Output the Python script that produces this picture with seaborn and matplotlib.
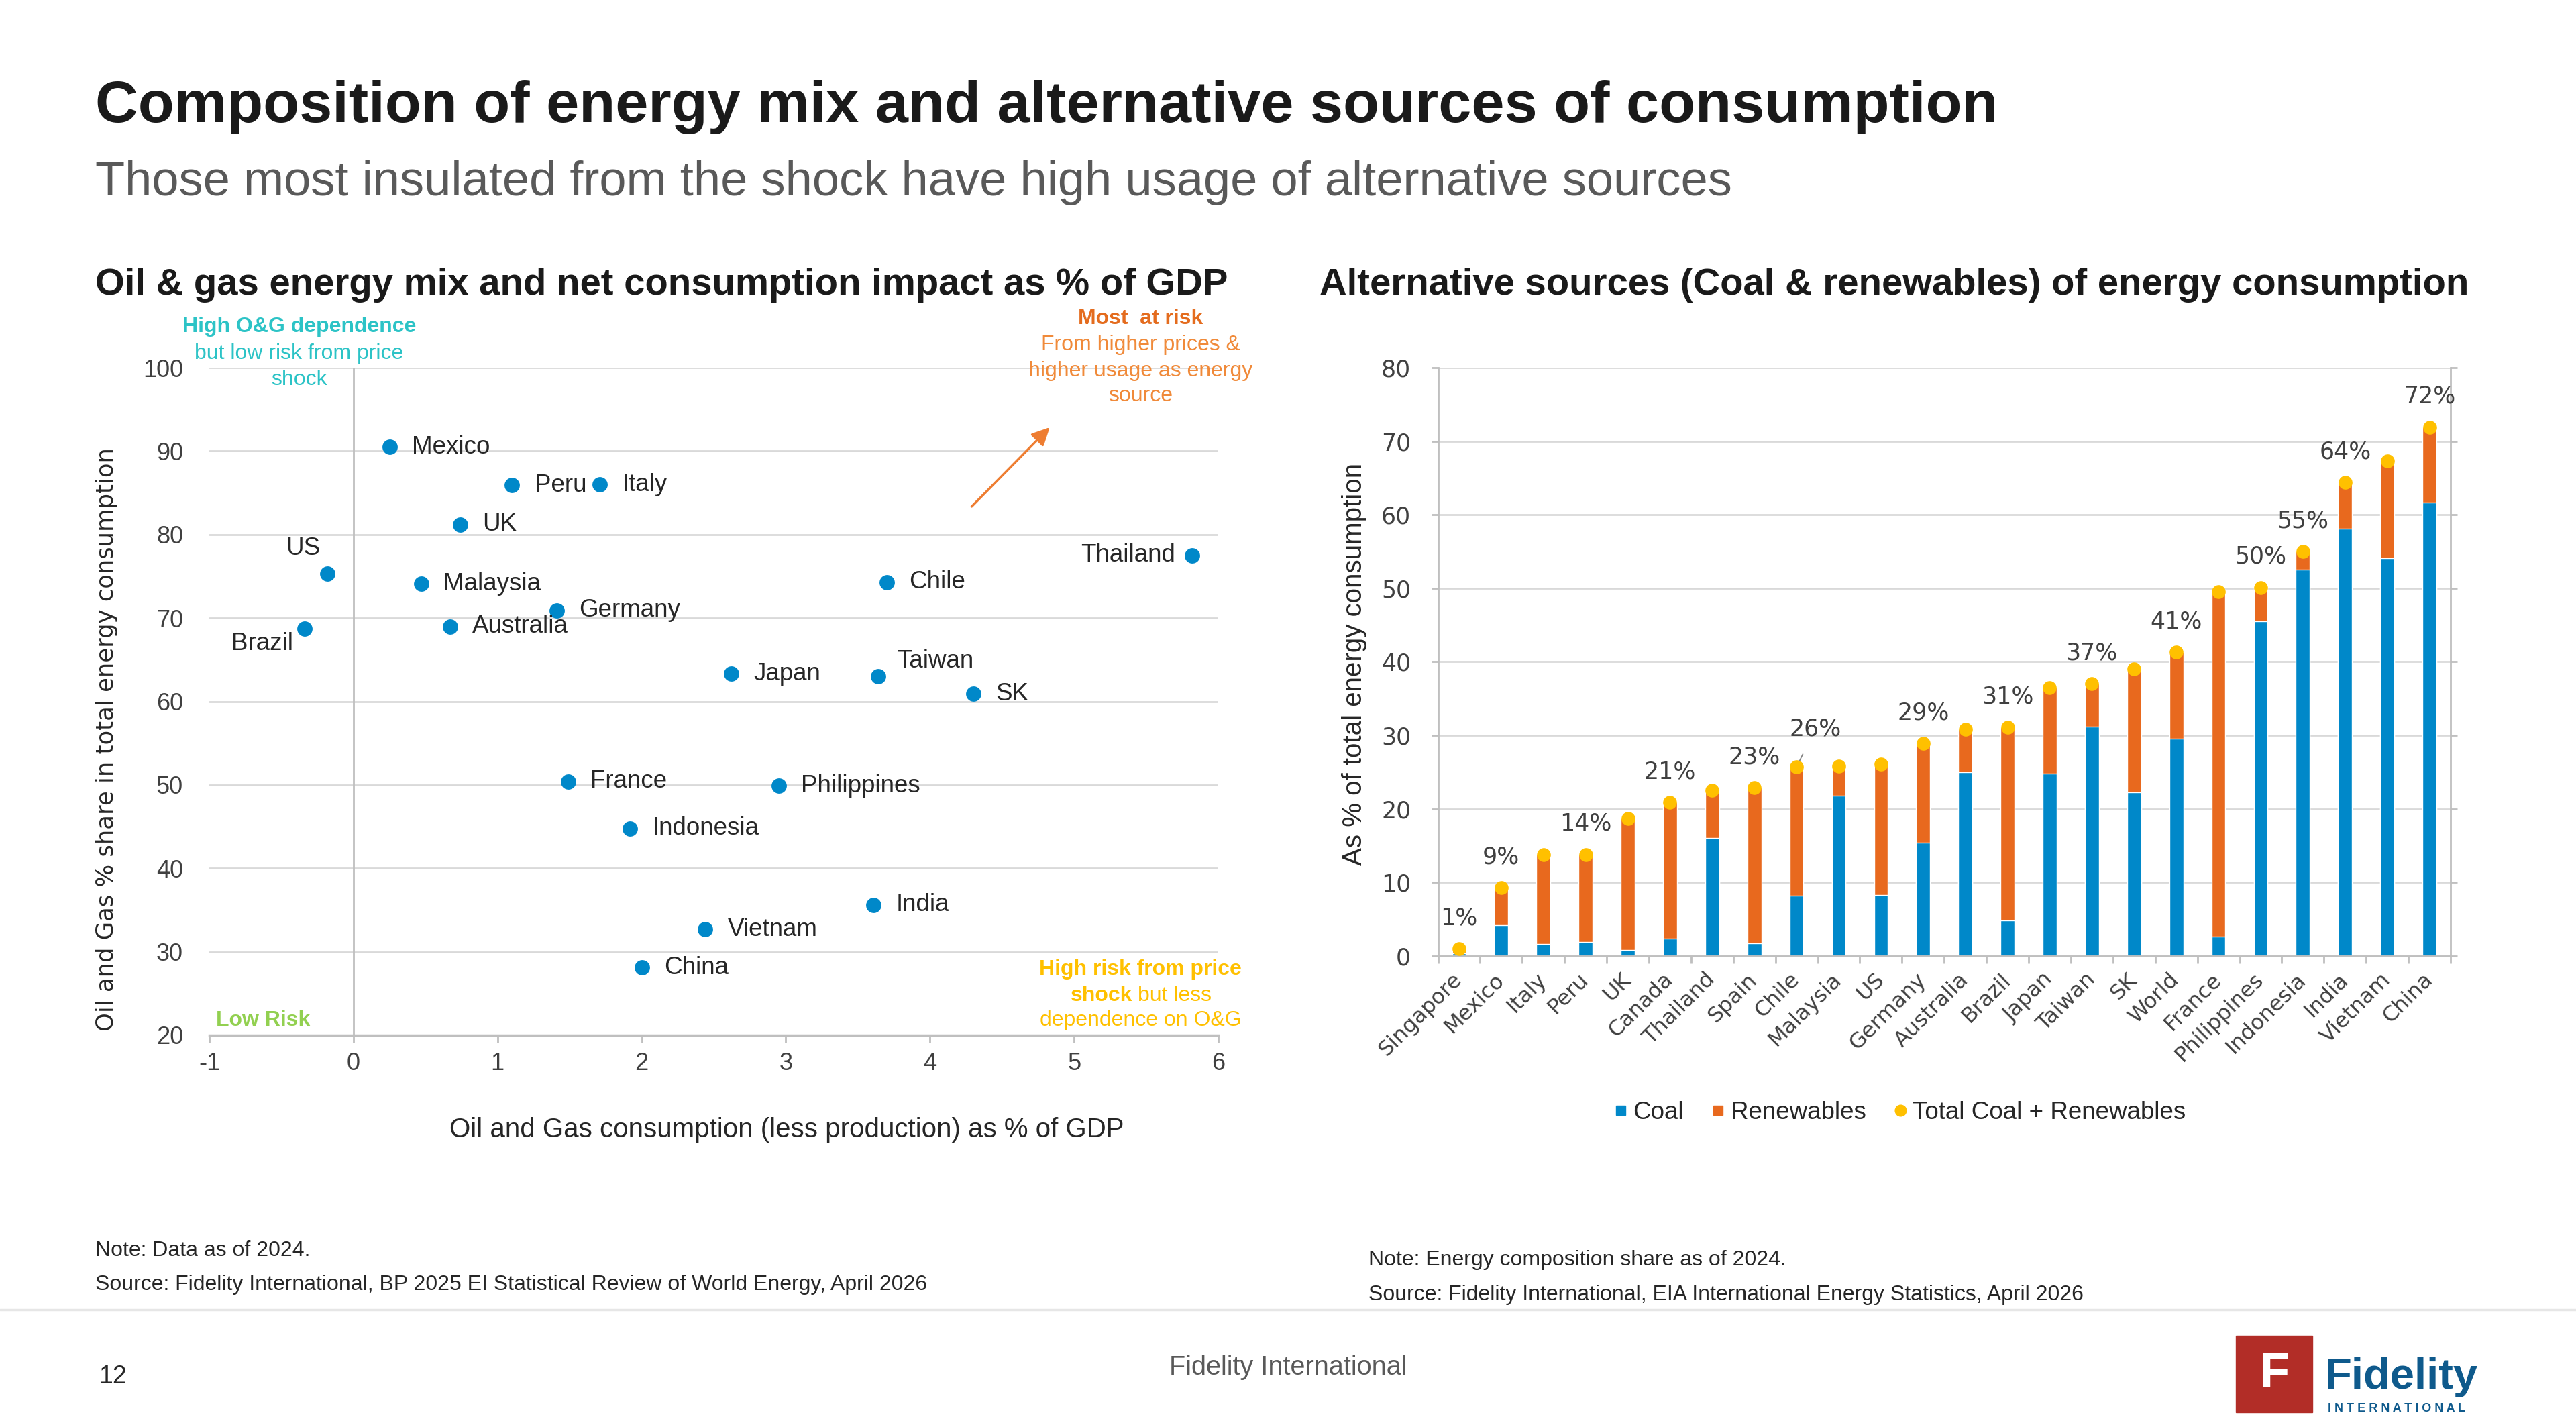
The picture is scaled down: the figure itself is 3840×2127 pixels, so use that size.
import matplotlib
matplotlib.use("Agg")
import matplotlib.pyplot as plt
from matplotlib.lines import Line2D
from matplotlib.patches import Rectangle
import seaborn as sns
import pandas as pd
import numpy as np

# ---- left chart: O&G net consumption (% of GDP) vs O&G share of energy mix
countries = ["Mexico", "Peru", "Italy", "UK", "US", "Malaysia", "Germany", "Australia",
             "Brazil", "Thailand", "Chile", "Japan", "Taiwan", "SK", "France",
             "Philippines", "Indonesia", "India", "Vietnam", "China"]
og_consumption = [0.25, 1.10, 1.71, 0.74, -0.18, 0.47, 1.41, 0.67,
                  -0.34, 5.82, 3.70, 2.62, 3.64, 4.30, 1.49,
                  2.95, 1.92, 3.61, 2.44, 2.00]
og_share = [90.5, 85.9, 86.0, 81.2, 75.3, 74.1, 70.9, 69.0,
            68.7, 77.5, 74.3, 63.3, 63.0, 60.9, 50.4,
            49.9, 44.8, 35.6, 32.7, 28.1]

# ---- right chart: coal & renewables share of energy consumption
markets = ["Singapore", "Mexico", "Italy", "Peru", "UK", "Canada", "Thailand", "Spain",
           "Chile", "Malaysia", "US", "Germany", "Australia", "Brazil", "Japan", "Taiwan",
           "SK", "World", "France", "Philippines", "Indonesia", "India", "Vietnam", "China"]
coal = [0.4, 4.2, 1.6, 1.9, 0.8, 2.4, 16.1, 1.7,
        8.2, 21.8, 8.3, 15.4, 25.0, 4.8, 24.8, 31.2,
        22.3, 29.6, 2.6, 45.5, 52.5, 58.1, 54.1, 61.7]
renewables = [0.6, 5.1, 12.2, 11.9, 17.9, 18.5, 6.4, 21.2,
              17.5, 4.0, 17.8, 13.5, 5.8, 26.3, 11.7, 5.8,
              16.7, 11.7, 46.9, 4.6, 2.5, 6.3, 13.2, 10.2]
labelled = ["Singapore", "Mexico", "Peru", "Canada", "Spain", "Chile", "Germany", "Brazil",
            "Taiwan", "World", "Philippines", "Indonesia", "India", "China"]

BLUE = "#0088C9"
ORANGE = "#E8691E"
YELLOW = "#FFC000"
GRID = "#D9D9D9"
AXIS = "#BFBFBF"
TXT = "#262626"
TICK = "#404040"

W, H = 3840, 2127
sns.set_theme(style="white")
plt.rcParams["font.family"] = ["Liberation Sans", "DejaVu Sans"]
plt.rcParams["axes.unicode_minus"] = False

fig = plt.figure(figsize=(W / 100, H / 100), dpi=100)


def fx(x):
    return x / W


def fy(y):
    return 1 - y / H


# ---- headers
fig.text(fx(142), fy(160), "Composition of energy mix and alternative sources of consumption",
         fontsize=63.5, fontweight="bold", color="#1A1A1A", va="center")
fig.text(fx(142), fy(272), "Those most insulated from the shock have high usage of alternative sources",
         fontsize=52, color="#595959", va="center")
fig.text(fx(142), fy(425), "Oil & gas energy mix and net consumption impact as % of GDP",
         fontsize=40.5, fontweight="bold", color="#1A1A1A", va="center")
fig.text(fx(1967), fy(425), "Alternative sources (Coal & renewables) of energy consumption",
         fontsize=40.5, fontweight="bold", color="#1A1A1A", va="center")

# ---- scatter
ax = fig.add_axes([fx(312), fy(1543), (1816 - 312) / W, (1543 - 548) / H])
df_sc = pd.DataFrame({"country": countries, "x": og_consumption, "y": og_share})
sns.scatterplot(data=df_sc, x="x", y="y", color=BLUE, s=270, linewidth=0, ax=ax, zorder=3)
ax.set_xlim(-1, 6)
ax.set_ylim(20, 100)
ax.set_xticks(range(-1, 7))
ax.set_yticks(range(20, 101, 10))
ax.yaxis.grid(True, color=GRID, lw=2)
ax.xaxis.grid(False)
ax.set_axisbelow(True)
for s in ["left", "top", "right"]:
    ax.spines[s].set_visible(False)
ax.spines["bottom"].set_color(AXIS)
ax.spines["bottom"].set_linewidth(2.5)
ax.axvline(0, color=AXIS, lw=2, zorder=1)
ax.tick_params(axis="x", bottom=True, direction="out", length=8, width=2, color=AXIS,
               labelsize=26, labelcolor=TICK, pad=10)
ax.tick_params(axis="y", left=False, labelsize=26, labelcolor=TICK, pad=22)
ax.set_xlabel("Oil and Gas consumption (less production) as % of GDP", fontsize=29, color=TXT)
ax.xaxis.set_label_coords(0.572, -0.1226)
ax.set_ylabel("Oil and Gas % share in total energy consumption", fontsize=25.5, color=TXT,
              family="DejaVu Sans")
ax.yaxis.set_label_coords(-0.0904, 0.443)

special = {"US": ((-26, 27), "center"), "Brazil": ((-12, -16), "right"),
           "Thailand": ((-18, 0), "right"), "Taiwan": ((20, 16), "left")}
for name, x, y in zip(countries, og_consumption, og_share):
    off, ha = special.get(name, ((24, 0), "left"))
    ax.annotate(name, (x, y), xytext=off, textcoords="offset points", ha=ha, va="center",
                fontsize=26.5, color=TXT)

ax.annotate("", xy=(4.84, 93.0), xytext=(4.28, 83.2),
            arrowprops=dict(arrowstyle="-|>", color="#EE7D31", lw=2.5, mutation_scale=40))

# quadrant notes
TEAL = "#2CC3C6"
fig.text(fx(446), fy(487), "High O&G dependence", fontsize=23, fontweight="bold", color=TEAL,
         ha="center", va="center")
fig.text(fx(446), fy(527), "but low risk from price", fontsize=23, color=TEAL, ha="center", va="center")
fig.text(fx(446), fy(566), "shock", fontsize=23, color=TEAL, ha="center", va="center")
fig.text(fx(1700), fy(475), "Most  at risk", fontsize=23, fontweight="bold", color="#E46C1E",
         ha="center", va="center")
for t, yy in [("From higher prices &", 514), ("higher usage as energy", 553), ("source", 590)]:
    fig.text(fx(1700), fy(yy), t, fontsize=23, color="#F08A3A", ha="center", va="center")
fig.text(fx(1700), fy(1445), "High risk from price", fontsize=23, fontweight="bold", color=YELLOW,
         ha="center", va="center")
fig.text(fx(1688), fy(1484), "shock", fontsize=23, fontweight="bold", color=YELLOW, ha="right", va="center")
fig.text(fx(1696), fy(1484), "but less", fontsize=23, color=YELLOW, ha="left", va="center")
fig.text(fx(1700), fy(1521), "dependence on O&G", fontsize=23, color=YELLOW, ha="center", va="center")
fig.text(fx(392), fy(1521), "Low Risk", fontsize=23, fontweight="bold", color="#92D050",
         ha="center", va="center")

# ---- stacked bars
ax2 = fig.add_axes([fx(2143.5), fy(1425), (3653 - 2143.5) / W, (1425 - 548) / H])
df_bar = pd.DataFrame({"market": markets, "coal": coal, "renewables": renewables})
df_bar["total"] = df_bar["coal"] + df_bar["renewables"]
sns.barplot(data=df_bar, x="market", y="total", order=markets, color=ORANGE, saturation=1,
            width=0.33, ax=ax2, zorder=2)
sns.barplot(data=df_bar, x="market", y="coal", order=markets, color=BLUE, saturation=1,
            width=0.33, ax=ax2, zorder=2)
pos = np.arange(len(markets))
ax2.scatter(pos, df_bar["total"], s=220, color=YELLOW, zorder=4, linewidths=0)
ax2.set_xlim(-0.5, len(markets) - 0.5)
ax2.set_ylim(0, 80)
ax2.set_yticks(range(0, 81, 10))
ax2.yaxis.grid(True, color=GRID, lw=2)
ax2.set_axisbelow(True)
ax2.spines["top"].set_visible(False)
for s in ["left", "right", "bottom"]:
    ax2.spines[s].set_color(AXIS)
    ax2.spines[s].set_linewidth(2)
ax2.tick_params(axis="y", left=True, right=True, labelright=False, direction="out", length=7,
                width=2, color=AXIS, labelsize=25, labelcolor=TICK, pad=22)
for lab in ax2.get_yticklabels():
    lab.set_family("DejaVu Sans")
ax2.set_xticks(pos)
ax2.set_xticks(np.arange(-0.5, len(markets), 1), minor=True)
ax2.tick_params(axis="x", which="major", length=0, pad=22)
ax2.tick_params(axis="x", which="minor", bottom=True, direction="out", length=8, width=2, color=AXIS)
ax2.set_xticklabels(markets, rotation=45, ha="right", va="center", rotation_mode="anchor",
                    fontsize=23, color=TICK, family="DejaVu Sans")
ax2.set_xlabel("")
ax2.set_ylabel("As % of total energy consumption", fontsize=29, color=TXT)
ax2.yaxis.set_label_coords(-0.0699, 0.496)

for i, row in df_bar.iterrows():
    if row["market"] not in labelled:
        continue
    if row["market"] == "Chile":
        ax2.annotate(f"{row['total']:.0f}%", (i, row["total"]), xytext=(20, 41),
                     textcoords="offset points", ha="center", va="center", fontsize=25,
                     color=TICK, family="DejaVu Sans",
                     arrowprops=dict(arrowstyle="-", color="#7F7F7F", lw=1.2, shrinkA=14, shrinkB=2))
    else:
        ax2.annotate(f"{row['total']:.0f}%", (i, row["total"]), xytext=(0, 33),
                     textcoords="offset points", ha="center", va="center", fontsize=25,
                     color=TICK, family="DejaVu Sans")

handles = [Line2D([], [], marker="s", ls="", color=BLUE, markersize=10),
           Line2D([], [], marker="s", ls="", color=ORANGE, markersize=10),
           Line2D([], [], marker="o", ls="", color=YELLOW, markersize=12)]
fig.legend(handles, ["Coal", "Renewables", "Total Coal + Renewables"], loc="center",
           bbox_to_anchor=(fx(2828), fy(1658)), ncol=3, frameon=False, fontsize=26.5,
           handletextpad=0.0, columnspacing=0.9, handlelength=1.0, labelcolor=TXT)

# ---- notes and footer
fig.text(fx(142), fy(1864), "Note: Data as of 2024.", fontsize=23, color=TXT, va="center")
fig.text(fx(142), fy(1915),
         "Source: Fidelity International, BP 2025 EI Statistical Review of World Energy, April 2026",
         fontsize=23, color=TXT, va="center")
fig.text(fx(2040), fy(1878), "Note: Energy composition share as of 2024.", fontsize=23, color=TXT,
         va="center")
fig.text(fx(2040), fy(1930), "Source: Fidelity International, EIA International Energy Statistics, April 2026",
         fontsize=23, color=TXT, va="center")
fig.add_artist(Line2D([0, 1], [fy(1952), fy(1952)], color="#E6E6E6", lw=2.5))
fig.text(fx(147), fy(2052), "12", fontsize=27, color=TXT, va="center")
fig.text(fx(1920), fy(2038), "Fidelity International", fontsize=28.5, color="#595959",
         ha="center", va="center")

fig.add_artist(Rectangle((fx(3333), fy(2105)), 114 / W, 114 / H, transform=fig.transFigure,
                         color="#B22D27"))
fig.text(fx(3390), fy(2048), "F", fontsize=52, fontweight="bold", color="white",
         ha="center", va="center")
fig.text(fx(3466), fy(2070), "Fidelity", fontsize=47, fontweight="bold", color="#0F5A8C",
         ha="left", va="baseline")
fig.text(fx(3470), fy(2100), "I N T E R N A T I O N A L", fontsize=13, fontweight="bold",
         color="#0F5A8C", ha="left", va="center")

fig.savefig("out.png", dpi=100)
